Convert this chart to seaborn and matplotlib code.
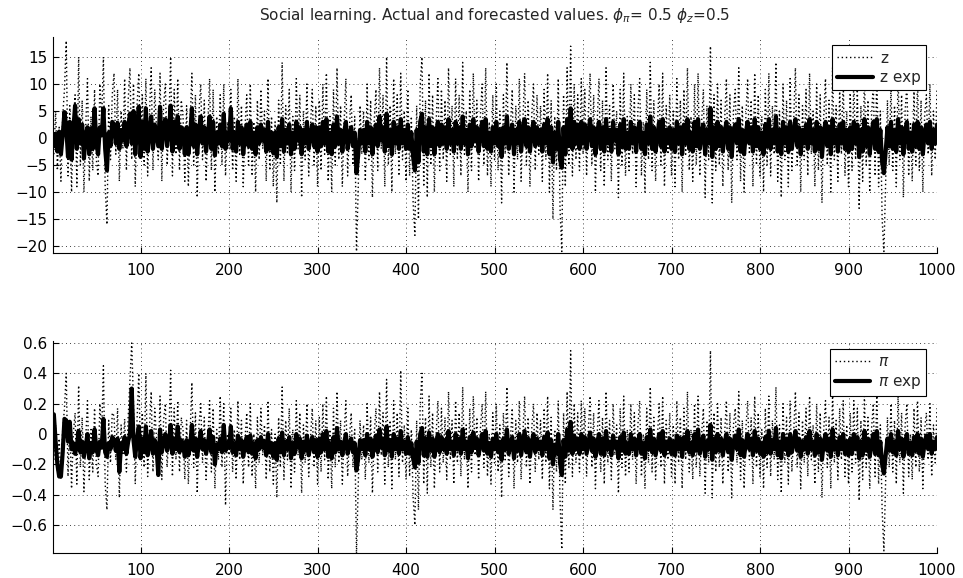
import numpy as np
import matplotlib
matplotlib.use("Agg")
import matplotlib.pyplot as plt
import seaborn as sns

# every second time step, 2..1000
t = np.arange(2, 1001, 2)

z = [
    -3, 5, -6, 2, -8, 4, 9, 18, -7, 6, -10, 3, 8, -9, 15, -5, 7, -10, 2, 11, -8, 4, -6, 9, -4,
    -7, 10, 3, 15, -9, -16, 6, -4, 8, 12, -3, 9, -8, 5, -2, 11, -6, 7, 13, -4, 10, -9, 6, 12, -3,
    8, -5, 11, -7, 4, 13, -6, 9, 2, -4, 12, -8, 6, 10, -5, 3, 15, -7, 9, -3, 11, -6, 7, 4, -8,
    6, -9, 3, 12, -5, 8, -11, 5, 10, -4, 7, -8, 2, 11, -6, 9, -10, 4, -3, 8, -5, 10, -7, 3, -2,
    9, -6, 4, -8, 11, -3, 6, -9, 2, 8, -5, 10, -7, 3, -10, 7, -4, 9, -2, 5, -8, 11, -6, 4, -9,
    3, -12, 7, -5, 14, -8, 6, -3, 9, -10, 4, -6, 11, -2, 8, -11, 5, -4, 10, -7, 2, 9, -5, 6, -9,
    7, -6, 10, -3, 12, -8, 4, -10, 9, -5, 13, -4, 6, -9, 3, 11, -7, 2, 8, -5, 4, -21, -9, 6, -3,
    5, -8, 10, -4, 7, -11, 3, 9, -6, 13, -2, 8, -9, 15, -5, 6, -10, 11, -3, 8, -7, 12, -4, 5, -8,
    9, -7, 4, -12, -18, 6, -15, 10, 15, -9, 7, -11, 12, -5, 8, -10, 3, 11, -6, 9, -4, 7, -8, 13, -3,
    6, -9, 11, -4, 8, -7, 14, -3, 5, -10, 9, -6, 12, -2, 7, -8, 4, 10, -5, 13, -7, 3, -9, 8, -4,
    10, -6, 5, -12, 8, -3, 14, -7, 2, 9, -10, 6, -4, 11, -8, 3, 12, -5, 7, -9, 4, 10, -6, 8, -3,
    6, -8, 9, -4, 12, -10, 7, -15, 4, -6, 11, -13, -21, 8, -9, 13, -5, 17, -7, 10, -4, 8, -6, 11, -3,
    9, -7, 4, 12, -5, 8, -10, 3, 11, -6, 7, -9, 13, -4, 6, -8, 10, -2, 5, -11, 9, -5, 12, -7, 4,
    -6, 10, -3, 8, -9, 5, 11, -7, 3, -10, 9, -4, 14, -6, 7, -8, 2, 10, -5, 12, -9, 6, -3, 8, -7,
    5, -9, 11, -4, 7, -10, 9, -3, 13, -6, 4, -8, 10, -5, 12, -7, 3, 9, -11, 6, -4, 17, -12, 8, -6,
    10, -5, 7, -9, 3, 11, -6, 8, -12, 5, 9, -4, 13, -8, 6, -10, 4, 11, -3, 7, -9, 12, -5, 8, -7,
    4, -10, 9, -5, 12, -7, 6, -3, 14, -8, 5, -11, 10, -4, 7, -9, 11, -6, 3, 13, -5, 8, -10, 6, -4,
    9, -7, 12, -3, 5, -9, 10, -6, 8, -12, 4, 11, -5, 7, -10, 13, -4, 6, -8, 9, -3, 11, -7, 5, -9,
    8, -6, 11, -4, 9, -13, 6, -8, 12, -5, 7, -10, 4, 10, -7, 13, -9, 5, -15, -21, -8, 7, -5, 10, -6,
    6, -9, 12, -4, 8, -11, 5, 10, -7, 3, -8, 9, -5, 11, -6, 7, -10, 4, 8, -3, 10, -7, 5, -4, 9,
]

z_exp = [
    -1.5, 0.8, -2.5, 1.2, -3, 0.5, 4.8, 2, -3.5, 3, -4, 1.5, 6, -2, 3.5, -1, 2.5, -3.8, 0.5, 2, -3, 1.8, -2, 5.5, -1,
    -3, 2, 0.5, 5.5, -2, -6, 1, -1.5, 3, 2.5, -1, 2.8, -2, 1.5, -0.5, 3, -1.5, 2, 4.5, -1, 5, -3, 2, 5.8, -3.5,
    3, -2, 5.5, -2.5, 1, 4, -2, 2.5, 0.5, -1.5, 5.8, -2, 2, 3.5, -1.5, 1, 6, -2.5, 3, -1, 4, -2, 2, 1, -3,
    2, -3, 0.5, 5.5, -1.5, 2.5, -3, 1.5, 4, -1, 2, -2.5, 0.5, 4, -2, 3, -3.2, 1, -1, 2.5, -1.5, 4.5, -2, 1, -0.5,
    5.5, -2, 1, -2.5, 3, -1, 2, -3, 0.5, 2.5, -1.5, 3, -2, 1, -3, 2, -1, 2.5, -0.5, 1.5, -2.5, 3, -2, 1, -2.8,
    1, -3.5, 2, -1.5, 3.5, -2.5, 1.5, -1, 2.5, -3, 1, -2, 3, -0.5, 2, -3, 1.5, -1, 3, -2, 0.5, 2.5, -1.5, 2, -2.5,
    2, -1.5, 3, -1, 3.5, -2.5, 1, -3, 2.5, -1.5, 4, -1, 1.5, -2.5, 1, 3, -2, 0.5, 2, -1.5, 1, -6.5, -3, 1.5, -1,
    1.5, -2.5, 3, -1, 2, -3, 1, 2.5, -1.5, 4, -0.5, 2, -2.5, 4.5, -1.5, 1.5, -3, 3, -1, 2, -2, 3.5, -1, 1.5, -2,
    2.5, -2, 1, -3.5, -6, 1.5, -4.5, 3, 4.5, -2.5, 2, -3, 3.5, -1.5, 2, -3, 1, 3, -1.5, 2.5, -1, 2, -2, 3.5, -1,
    1.5, -2.5, 3, -1, 2, -2, 4, -1, 1.5, -3, 2.5, -1.5, 3.5, -0.5, 2, -2.5, 1, 3, -1.5, 3.5, -2, 1, -2.5, 2, -1,
    3, -1.5, 1.5, -3.5, 2, -1, 4, -2, 0.5, 2.5, -3, 1.5, -1, 3, -2.5, 1, 3.5, -1.5, 2, -2.5, 1, 3, -1.5, 2, -1,
    1.5, -2.5, 2.5, -1, 3.5, -3, 2, -4.5, 1, -2, 3, -4, -5.5, 2, -3, 3.5, -1.5, 5.5, -2, 3, -1, 2.5, -2, 3, -1,
    2.5, -2, 1, 3.5, -1.5, 2, -3, 1, 3, -2, 2, -2.5, 3.5, -1, 1.5, -2.5, 3, -0.5, 1.5, -3, 2.5, -1.5, 3.5, -2, 1,
    -2, 3, -1, 2, -2.5, 1.5, 3, -2, 1, -3, 2.5, -1, 4, -2, 2, -2.5, 0.5, 3, -1.5, 3.5, -2.5, 1.5, -1, 2, -2,
    1.5, -2.5, 3, -1, 2, -3, 2.5, -1, 3.5, -2, 1, -2.5, 3, -1.5, 3.5, -2, 1, 2.5, -3, 1.5, -1, 5.5, -3.5, 2, -2,
    3, -1.5, 2, -2.5, 1, 3, -2, 2, -3.5, 1.5, 2.5, -1, 3.5, -2.5, 1.5, -3, 1, 3, -1, 2, -2.5, 3.5, -1.5, 2, -2,
    1, -3, 2.5, -1.5, 3.5, -2, 1.5, -1, 4, -2.5, 1.5, -3, 3, -1, 2, -2.5, 3, -2, 1, 3.5, -1.5, 2, -3, 1.5, -1,
    2.5, -2, 3.5, -1, 1.5, -2.5, 3, -2, 2, -3.5, 1, 3, -1.5, 2, -3, 3.5, -1, 1.5, -2.5, 2.5, -1, 3, -2, 1.5, -2.5,
    2, -2, 3, -1, 2.5, -3.5, 1.5, -2.5, 3.5, -1.5, 2, -3, 1, 3, -2, 3.5, -2.5, 1.5, -4.5, -6.5, -2.5, 2, -1.5, 3, -2,
    1.5, -2.5, 3.5, -1, 2, -3, 1.5, 3, -2, 1, -2.5, 2.5, -1.5, 3, -2, 2, -3, 1, 2.5, -1, 3, -2, 1.5, -1, 2.5,
]

pi_act = [
    -0.17, 0.06, -0.25, -0.03, -0.3, 0.03, 0.17, 0.4, -0.28, 0.09, -0.36, 0.0, 0.14, -0.33, 0.32, -0.22, 0.11, -0.38, -0.03, 0.22, -0.3, 0.03, -0.25, 0.17, -0.19,
    -0.28, 0.2, 0.0, 0.45, -0.33, -0.5, 0.09, -0.19, 0.14, 0.12, -0.17, 0.17, -0.42, 0.06, -0.14, 0.1, -0.25, 0.11, 0.35, 0.6, 0.2, -0.33, 0.09, 0.4, -0.17,
    0.14, -0.22, 0.4, -0.28, 0.03, 0.28, -0.25, 0.17, -0.03, -0.19, 0.25, -0.3, 0.09, 0.2, -0.22, 0.0, 0.42, -0.28, 0.17, -0.17, 0.22, -0.25, 0.11, 0.03, -0.3,
    0.09, -0.33, 0.0, 0.34, -0.22, 0.14, -0.39, 0.06, 0.2, -0.19, 0.11, -0.3, -0.03, 0.22, -0.25, 0.17, -0.36, 0.03, -0.17, 0.25, -0.22, 0.2, -0.47, 0.0, -0.14,
    0.17, -0.25, 0.03, -0.3, 0.22, -0.17, 0.09, -0.33, -0.03, 0.14, -0.22, 0.2, -0.28, 0.0, -0.36, 0.11, -0.19, 0.17, -0.14, 0.06, -0.3, 0.22, -0.25, 0.03, -0.33,
    0.0, -0.42, 0.11, -0.22, 0.31, -0.3, 0.09, -0.17, 0.17, -0.36, 0.03, -0.25, 0.22, -0.14, 0.14, -0.39, 0.06, -0.19, 0.2, -0.28, -0.03, 0.17, -0.22, 0.09, -0.33,
    0.11, -0.25, 0.2, -0.17, 0.25, -0.3, 0.03, -0.36, 0.17, -0.22, 0.28, -0.19, 0.09, -0.33, 0.0, 0.22, -0.28, -0.03, 0.14, -0.22, 0.03, -0.79, -0.33, 0.09, -0.17,
    0.06, -0.3, 0.2, -0.19, 0.11, -0.39, 0.0, 0.17, -0.25, 0.28, -0.14, 0.14, -0.33, 0.36, -0.22, 0.09, -0.36, 0.22, -0.17, 0.14, -0.28, 0.42, -0.19, 0.06, -0.3,
    0.17, -0.28, 0.03, -0.42, -0.6, 0.09, -0.5, 0.2, 0.4, -0.33, 0.11, -0.39, 0.25, -0.22, 0.14, -0.36, 0.0, 0.22, -0.25, 0.17, -0.19, 0.11, -0.3, 0.28, -0.17,
    0.09, -0.33, 0.22, -0.19, 0.14, -0.28, 0.31, -0.17, 0.06, -0.36, 0.17, -0.25, 0.25, -0.14, 0.11, -0.3, 0.03, 0.2, -0.22, 0.28, -0.28, 0.0, -0.33, 0.14, -0.19,
    0.2, -0.25, 0.06, -0.42, 0.14, -0.17, 0.31, -0.28, -0.03, 0.17, -0.36, 0.09, -0.19, 0.22, -0.3, 0.0, 0.25, -0.22, 0.11, -0.33, 0.03, 0.2, -0.25, 0.14, -0.17,
    0.09, -0.3, 0.17, -0.19, 0.25, -0.36, 0.11, -0.5, 0.03, -0.25, 0.22, -0.44, -0.76, 0.14, -0.33, 0.28, -0.22, 0.55, -0.28, 0.2, -0.19, 0.14, -0.25, 0.22, -0.17,
    0.17, -0.28, 0.03, 0.25, -0.22, 0.14, -0.36, 0.0, 0.22, -0.25, 0.11, -0.33, 0.28, -0.19, 0.09, -0.3, 0.2, -0.14, 0.06, -0.39, 0.17, -0.22, 0.25, -0.28, 0.03,
    -0.25, 0.2, -0.17, 0.14, -0.33, 0.06, 0.22, -0.28, 0.0, -0.36, 0.17, -0.19, 0.31, -0.25, 0.11, -0.3, -0.03, 0.2, -0.22, 0.25, -0.33, 0.09, -0.17, 0.14, -0.28,
    0.06, -0.33, 0.22, -0.19, 0.11, -0.36, 0.17, -0.17, 0.28, -0.25, 0.03, -0.3, 0.2, -0.22, 0.25, -0.28, 0.0, 0.17, -0.39, 0.09, -0.19, 0.55, -0.42, 0.14, -0.25,
    0.2, -0.22, 0.11, -0.33, 0.0, 0.22, -0.25, 0.14, -0.42, 0.06, 0.17, -0.19, 0.28, -0.3, 0.09, -0.36, 0.03, 0.22, -0.17, 0.11, -0.33, 0.25, -0.22, 0.14, -0.28,
    0.03, -0.36, 0.17, -0.22, 0.25, -0.28, 0.09, -0.17, 0.31, -0.3, 0.06, -0.39, 0.2, -0.19, 0.11, -0.33, 0.22, -0.25, 0.0, 0.28, -0.22, 0.14, -0.36, 0.09, -0.19,
    0.17, -0.28, 0.25, -0.17, 0.06, -0.33, 0.2, -0.25, 0.14, -0.42, 0.03, 0.22, -0.22, 0.11, -0.36, 0.28, -0.19, 0.09, -0.3, 0.17, -0.17, 0.22, -0.28, 0.06, -0.33,
    0.14, -0.25, 0.22, -0.19, 0.17, -0.44, 0.09, -0.3, 0.25, -0.22, 0.11, -0.36, 0.03, 0.2, -0.28, 0.28, -0.33, 0.06, -0.5, -0.77, -0.3, 0.11, -0.22, 0.2, -0.25,
    0.09, -0.33, 0.25, -0.19, 0.14, -0.39, 0.06, 0.2, -0.28, 0.0, -0.3, 0.17, -0.22, 0.22, -0.25, 0.11, -0.36, 0.03, 0.14, -0.17, 0.2, -0.28, 0.06, -0.19, 0.17,
]

pi_exp = [
    0.13, -0.05, -0.2, -0.28, -0.28, -0.12, 0.1, 0.09, -0.05, 0.08, -0.1, -0.06, -0.13, -0.08, 0.02, -0.12, -0.05, -0.15, -0.08, 0.0, -0.16, -0.06, -0.12, 0.03, -0.1,
    -0.14, -0.05, -0.09, 0.1, -0.12, -0.15, -0.06, -0.1, -0.02, -0.04, -0.11, -0.03, -0.25, -0.06, -0.1, -0.02, -0.13, -0.05, 0.0, 0.3, -0.04, -0.15, -0.03, 0.05, -0.16,
    -0.03, -0.12, 0.05, -0.14, -0.07, 0.02, -0.13, -0.04, -0.08, -0.27, 0.03, -0.12, -0.05, 0.0, -0.11, -0.07, 0.06, -0.13, -0.03, -0.1, 0.05, -0.12, -0.04, -0.07, -0.15,
    -0.04, -0.14, -0.08, 0.06, -0.11, -0.03, -0.15, -0.06, 0.02, -0.1, -0.04, -0.13, -0.07, 0.03, -0.12, -0.02, -0.2, -0.07, -0.1, -0.03, -0.12, 0.06, -0.11, -0.06, -0.09,
    0.05, -0.12, -0.06, -0.14, -0.01, -0.1, -0.04, -0.15, -0.07, -0.02, -0.12, -0.01, -0.13, -0.06, -0.16, -0.04, -0.1, -0.02, -0.09, -0.05, -0.14, 0.0, -0.12, -0.06, -0.15,
    -0.06, -0.17, -0.03, -0.12, 0.01, -0.14, -0.05, -0.1, -0.02, -0.16, -0.06, -0.13, 0.0, -0.09, -0.03, -0.16, -0.05, -0.11, -0.01, -0.14, -0.07, -0.02, -0.12, -0.04, -0.15,
    -0.03, -0.12, 0.0, -0.1, 0.02, -0.15, -0.06, -0.16, -0.02, -0.12, 0.04, -0.1, -0.05, -0.14, -0.06, 0.0, -0.13, -0.07, -0.03, -0.12, -0.06, -0.24, -0.16, -0.04, -0.1,
    -0.04, -0.14, 0.0, -0.1, -0.03, -0.15, -0.06, -0.01, -0.12, 0.03, -0.09, -0.03, -0.14, 0.05, -0.11, -0.04, -0.15, 0.0, -0.1, -0.03, -0.13, 0.02, -0.1, -0.05, -0.13,
    -0.02, -0.13, -0.06, -0.16, -0.22, -0.05, -0.19, 0.0, 0.04, -0.14, -0.03, -0.15, 0.01, -0.11, -0.03, -0.15, -0.06, 0.0, -0.12, -0.02, -0.1, -0.04, -0.13, 0.02, -0.1,
    -0.05, -0.14, 0.0, -0.1, -0.03, -0.13, 0.03, -0.1, -0.05, -0.16, -0.02, -0.12, 0.01, -0.09, -0.03, -0.14, -0.06, 0.0, -0.11, 0.02, -0.13, -0.06, -0.15, -0.03, -0.1,
    0.0, -0.12, -0.05, -0.17, -0.03, -0.1, 0.03, -0.13, -0.07, -0.02, -0.16, -0.05, -0.11, 0.0, -0.14, -0.06, 0.02, -0.12, -0.03, -0.15, -0.06, 0.0, -0.12, -0.03, -0.1,
    -0.05, -0.14, -0.02, -0.1, 0.01, -0.16, -0.04, -0.2, -0.07, -0.13, 0.0, -0.19, -0.27, -0.04, -0.15, 0.03, -0.11, 0.08, -0.13, -0.01, -0.1, -0.03, -0.13, 0.0, -0.1,
    -0.02, -0.13, -0.06, 0.01, -0.11, -0.03, -0.15, -0.06, 0.0, -0.13, -0.03, -0.14, 0.02, -0.1, -0.05, -0.14, -0.01, -0.09, -0.05, -0.16, -0.02, -0.11, 0.01, -0.13, -0.06,
    -0.13, 0.0, -0.1, -0.03, -0.14, -0.05, 0.0, -0.13, -0.06, -0.16, -0.02, -0.1, 0.03, -0.12, -0.03, -0.14, -0.07, 0.0, -0.11, 0.02, -0.14, -0.05, -0.1, -0.03, -0.13,
    -0.05, -0.14, -0.01, -0.1, -0.03, -0.15, -0.02, -0.1, 0.02, -0.12, -0.06, -0.14, 0.0, -0.11, 0.03, -0.13, -0.06, -0.01, -0.15, -0.05, -0.1, 0.06, -0.17, -0.03, -0.12,
    0.0, -0.11, -0.03, -0.14, -0.06, 0.0, -0.12, -0.03, -0.17, -0.05, -0.01, -0.1, 0.03, -0.14, -0.04, -0.15, -0.06, 0.0, -0.1, -0.03, -0.14, 0.02, -0.11, -0.03, -0.13,
    -0.06, -0.15, -0.02, -0.12, 0.02, -0.13, -0.04, -0.1, 0.04, -0.14, -0.05, -0.16, 0.0, -0.1, -0.03, -0.14, 0.0, -0.12, -0.06, 0.02, -0.11, -0.03, -0.15, -0.05, -0.1,
    -0.02, -0.13, 0.02, -0.1, -0.05, -0.14, 0.0, -0.12, -0.03, -0.17, -0.06, 0.0, -0.11, -0.03, -0.15, 0.03, -0.1, -0.05, -0.14, -0.02, -0.1, 0.0, -0.13, -0.05, -0.14,
    -0.03, -0.13, 0.0, -0.1, -0.02, -0.16, -0.05, -0.14, 0.02, -0.11, -0.03, -0.15, -0.06, 0.0, -0.13, 0.02, -0.14, -0.05, -0.2, -0.26, -0.14, -0.03, -0.11, 0.0, -0.12,
    -0.05, -0.14, 0.02, -0.1, -0.03, -0.15, -0.05, 0.0, -0.13, -0.06, -0.14, -0.02, -0.11, 0.0, -0.13, -0.03, -0.15, -0.06, -0.01, -0.1, 0.0, -0.13, -0.05, -0.1, -0.02,
]

z_ticks = [-20, -15, -10, -5, 0, 5, 10, 15]
pi_ticks = [-0.6, -0.4, -0.2, 0, 0.2, 0.4, 0.6]
x_ticks = [100, 200, 300, 400, 500, 600, 700, 800, 900, 1000]

sns.set_style("white")
plt.rcParams["font.family"] = ["DejaVu Sans"]
plt.rcParams["mathtext.fontset"] = "dejavusans"

fig = plt.figure(figsize=(9.63, 5.78), dpi=100)
ax1 = fig.add_axes([0.055, 0.562, 0.918, 0.374])
ax2 = fig.add_axes([0.055, 0.043, 0.918, 0.367])

panels = [
    (ax1, z, z_exp, "z", "z exp", z_ticks, (-21.3, 18.7)),
    (ax2, pi_act, pi_exp, r"$\pi$", r"$\pi$ exp", pi_ticks, (-0.785, 0.613)),
]

for ax, act, fc, lab, lab_exp, yt, ylim in panels:
    sns.lineplot(x=t, y=act, ax=ax, color="black", linestyle=(0, (1, 2)), linewidth=1.0, label=lab)
    sns.lineplot(x=t, y=fc, ax=ax, color="black", linewidth=3.0, label=lab_exp)
    ax.set_xlim(1, 1000)
    ax.set_ylim(*ylim)
    ax.set_xticks(x_ticks)
    ax.set_yticks(yt)
    ax.set_yticklabels([f"{v:g}".replace("-", "\u2212") for v in yt])
    ax.grid(True, color="black", linestyle=(0, (1, 4)), linewidth=0.6)
    for s in ["top", "right"]:
        ax.spines[s].set_visible(False)
    for s in ["left", "bottom"]:
        ax.spines[s].set_color("black")
        ax.spines[s].set_linewidth(0.8)
    ax.tick_params(direction="in", length=4, width=0.8, labelsize=11, colors="black",
                   left=True, bottom=True)
    ax.tick_params(axis="x", pad=7)
    ax.tick_params(axis="y", pad=4)
    leg = ax.legend(loc="upper right", bbox_to_anchor=(0.988, 0.962), frameon=True, fancybox=False,
                    edgecolor="black", framealpha=1, fontsize=11, handlelength=2.3,
                    borderpad=0.35, labelspacing=0.3, handletextpad=0.5, borderaxespad=0)
    leg.get_frame().set_linewidth(0.8)

ax1.set_title(r"Social learning. Actual and forecasted values. $\phi_\pi$= 0.5 $\phi_z$=0.5",
              fontsize=11, pad=12)

fig.savefig("out.png", dpi=100)
